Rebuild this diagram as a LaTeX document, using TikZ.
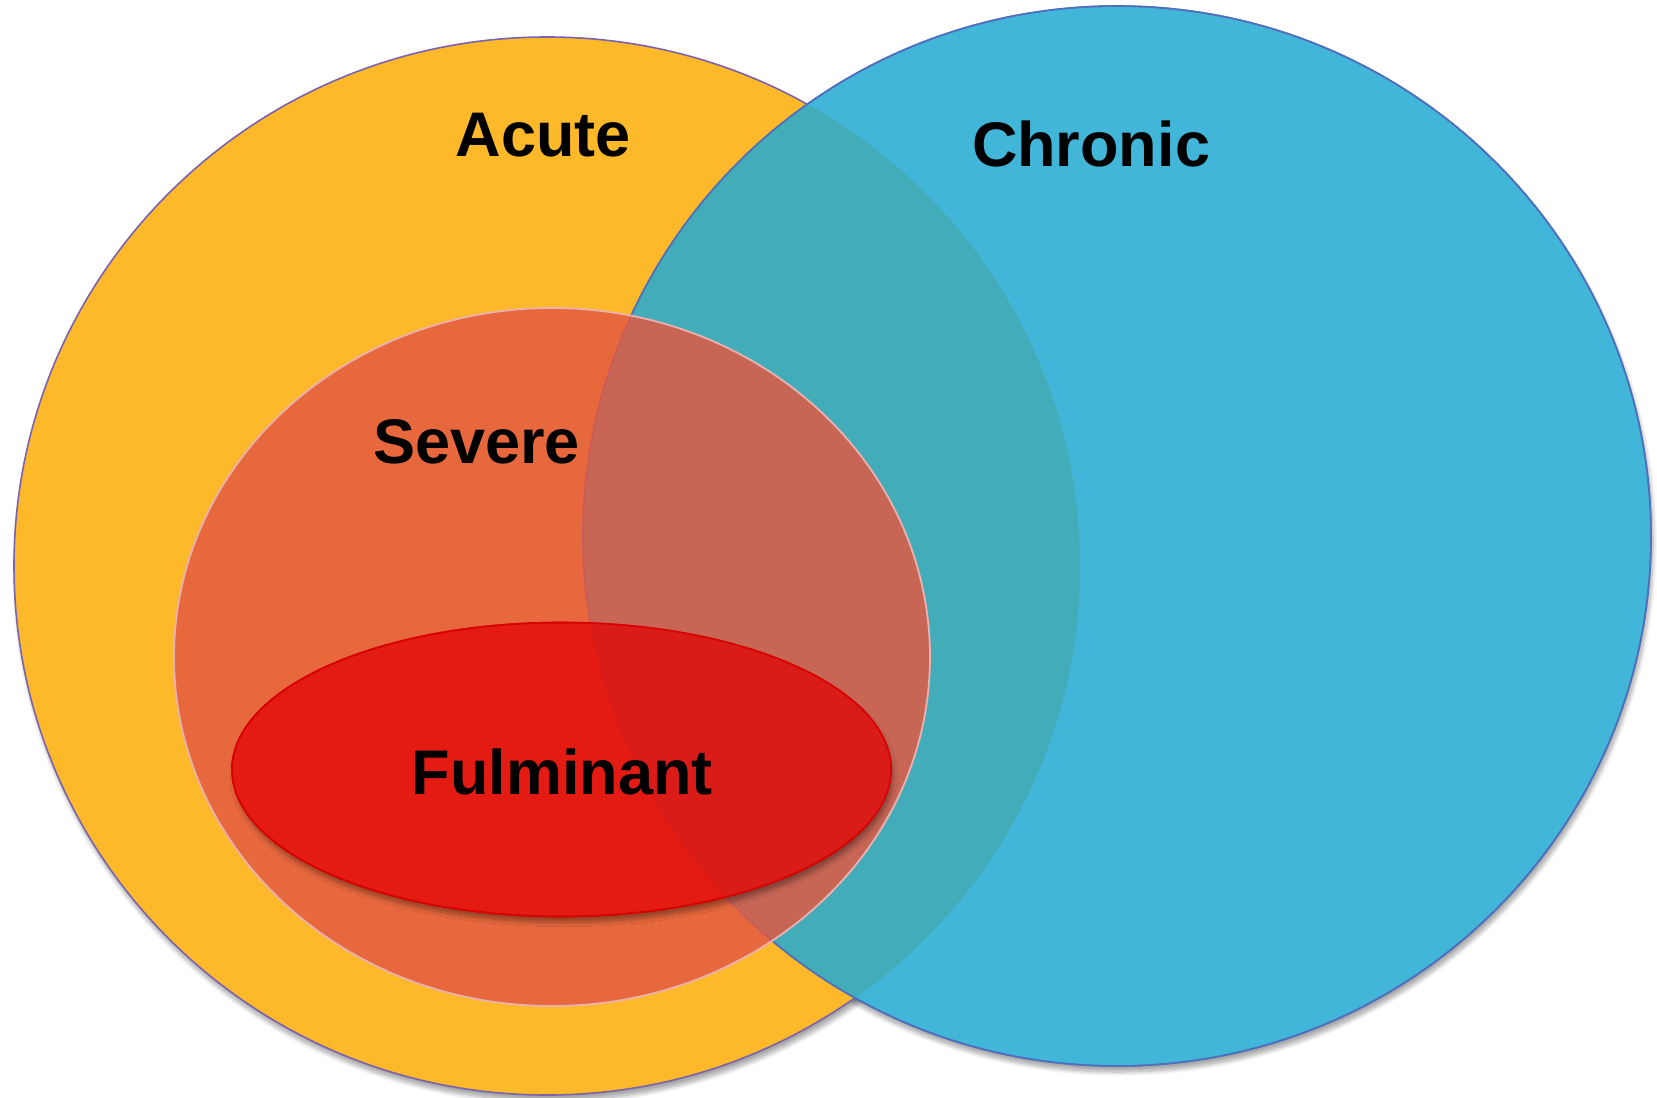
\documentclass[tikz,border=0pt]{standalone}
\usepackage{fontspec}
\setmainfont{Liberation Sans}
\usepackage{xcolor}
\usepackage{tikz}
\usetikzlibrary{shadows.blur}
\definecolor{acutefill}{HTML}{FDB92A}
\definecolor{acuteline}{HTML}{7B62AE}
\definecolor{chronicfill}{HTML}{41B6D9}
\definecolor{chronicline}{HTML}{4F6FBE}
\definecolor{overlapfill}{HTML}{42ACB8}
\definecolor{severefill}{HTML}{E45843}
\definecolor{severeline}{HTML}{EBB0B0}
\definecolor{fulminantfill}{HTML}{E31B12}
\definecolor{fulminantdark}{HTML}{D91C18}
\definecolor{fulminantline}{HTML}{D80000}
\tikzset{
  setlabel/.style={
    anchor=base,
    inner sep=0pt,
    font=\bfseries\fontsize{31.5}{36}\selectfont
  },
  soft shadow/.style={
    blur shadow={shadow xshift=1pt, shadow yshift=-3pt, shadow blur steps=8, shadow opacity=35}
  }
}

\begin{document}
\begin{tikzpicture}[
  x=0.5pt, y=-0.5pt,
  acute_set/.style={fill=acutefill, draw=acuteline, line width=0.8pt},
  chronic_set/.style={fill=chronicfill, draw=chronicline, line width=0.8pt},
  severe_set/.style={fill=severefill, fill opacity=0.83, draw=severeline, line width=0.9pt},
  fulminant_set/.style={fill=fulminantfill, draw=fulminantline, line width=0.8pt, soft shadow}
]
\useasboundingbox (0,0) rectangle (1657,1097);

% Shadows of the outer sets
\path[soft shadow] (547,566) ellipse [x radius=533, y radius=529];
\path[soft shadow] (1117,536) ellipse [x radius=534, y radius=530];

% Outer sets
\path[acute_set] (547,566) ellipse [x radius=533, y radius=529];
\path[chronic_set] (1117,536) ellipse [x radius=534, y radius=530];

% Overlap of acute and chronic
\begin{scope}
  \clip (547,566) ellipse [x radius=533, y radius=529];
  \fill[overlapfill] (1117,536) ellipse [x radius=534, y radius=530];
\end{scope}
\draw[chronicline, line width=0.8pt] (1117,536) ellipse [x radius=534, y radius=530];

% Inner sets
\path[severe_set] (552,657) ellipse [x radius=378, y radius=349];
\path[fulminant_set] (561.5,769.5) ellipse [x radius=329.5, y radius=147];
\begin{scope}
  \clip (1117,536) ellipse [x radius=534, y radius=530];
  \fill[fulminantdark] (561.5,769.5) ellipse [x radius=329.5, y radius=147];
\end{scope}
\draw[fulminantline, line width=0.8pt] (561.5,769.5) ellipse [x radius=329.5, y radius=147];

% Labels
\node[setlabel] (acute) at (543.5,156) {Acute};
\node[setlabel] (chronic) at (1091,166) {Chronic};
\node[setlabel] (severe) at (476.6,463) {Severe};
\node[setlabel] (fulminant) at (562,794) {Fulminant};

\end{tikzpicture}
\end{document}
